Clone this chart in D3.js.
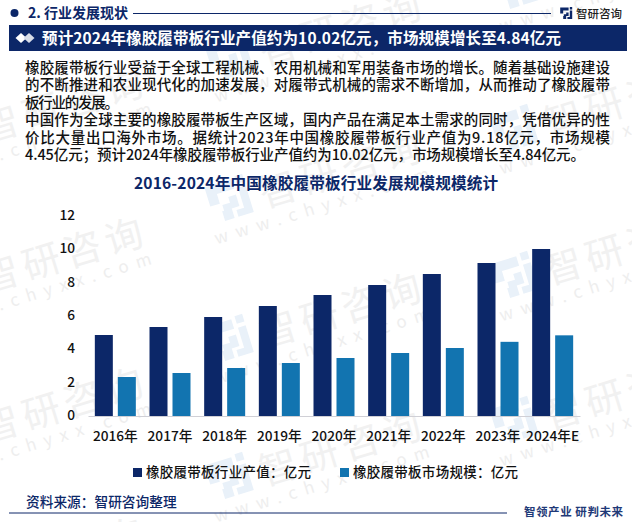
<!DOCTYPE html>
<html>
<head>
<meta charset="utf-8">
<script src="https://cdn.jsdelivr.net/npm/d3@7"></script>
<style>
  html, body { margin: 0; padding: 0; background: #fff; }
  svg { display: block; }
  text { font-family: "Noto Sans CJK SC", "Noto Sans", sans-serif; }
</style>
</head>
<body>
<svg id="chart"></svg>
<script>
const years = ["2016年", "2017年", "2018年", "2019年", "2020年", "2021年", "2022年", "2023年", "2024年E"];
const outputValues = [4.86, 5.34, 5.94, 6.6, 7.26, 7.86, 8.52, 9.18, 10.02];
const marketValues = [2.34, 2.58, 2.88, 3.18, 3.48, 3.78, 4.08, 4.45, 4.84];
const yTicks = [0, 2, 4, 6, 8, 10, 12];
const seriesNames = ["橡胶履带板行业产值：亿元", "橡胶履带板市场规模：亿元"];

const bodyLines = [
    "橡胶履带板行业受益于全球工程机械、农用机械和军用装备市场的增长。随着基础设施建设",
    "的不断推进和农业现代化的加速发展，对履带式机械的需求不断增加，从而推动了橡胶履带",
    "板行业的发展。",
    "中国作为全球主要的橡胶履带板生产区域，国内产品在满足本土需求的同时，凭借优异的性",
    "价比大量出口海外市场。据统计2023年中国橡胶履带板行业产值为9.18亿元，市场规模",
    "4.45亿元；预计2024年橡胶履带板行业产值约为10.02亿元，市场规模增长至4.84亿元。"
];
const bodyEnds = [610, 610, 119, 610, 610, 585];

// watermark stamps, repeated over the page
const stamps = [
    [225, 58], [225, 200], [225, 340], [225, 478],
    [-53, 135], [-53, 285], [-53, 435], [-53, 585],
    [510, -12], [510, 130], [510, 277], [510, 422]
];

const navy = "#0c2768";
const blue = "#1274b0";
const width = 632, height = 522;

const svg = d3.select("#chart").attr("width", width).attr("height", height);

// Watermark
const logoPath = "M-16,-18 H12 V-8 H-6 V2 H-16 Z M-4,4 H4 V-2 H12 V10 H4 V20 H-6 V10 H-4 Z M16,-20 H24 V-12 H16 Z M16,-8 H24 V20 H8 V13 H16 Z";
stamps.forEach(([sx, sy]) => {
    const g = svg.append("g").attr("transform", `translate(${sx},${sy}) rotate(-17)`);
    g.append("path").attr("d", logoPath).attr("fill", "#e9f1f9");
    g.append("text").attr("x", 35).attr("y", 19)
        .attr("font-size", 38).attr("letter-spacing", 5).attr("fill", "#f1f1f1")
        .text("智研咨询");
    g.append("text").attr("x", -21).attr("y", 40)
        .attr("font-size", 17).attr("letter-spacing", 8).attr("fill", "#eeeeee")
        .text("www.chyxx.com");
});

// Section header
svg.append("circle").attr("cx", 14.5).attr("cy", 13).attr("r", 4).attr("fill", navy);
svg.append("text").attr("x", 28).attr("y", 18).attr("font-size", 14).attr("font-weight", 700)
    .attr("fill", navy).text("2. 行业发展现状");
svg.append("line").attr("x1", 133).attr("x2", 551).attr("y1", 13.5).attr("y2", 13.5)
    .attr("stroke", navy).attr("stroke-width", 1);

// Top right brand
const brand = svg.append("g").attr("transform", "translate(565,13) scale(0.3)");
brand.append("path").attr("d", logoPath).attr("fill", navy);
svg.append("text").attr("x", 576).attr("y", 17.5).attr("font-size", 11.5).attr("font-weight", 500)
    .attr("fill", "#222").text("智研咨询");

// Title bar
svg.append("rect").attr("x", 9).attr("y", 25).attr("width", 618).attr("height", 26).attr("fill", navy);
[21, 29].forEach((cx, i) => {
    svg.append("path")
        .attr("d", `M${cx - 5.5},38 L${cx},33 L${cx + 5.5},38 L${cx},43 Z`)
        .attr("fill", i ? "#d8dde8" : "#fff");
});
svg.append("text").attr("x", 42).attr("y", 43.5).attr("font-size", 15.5).attr("font-weight", 700)
    .attr("fill", "#fff").attr("textLength", 519).attr("lengthAdjust", "spacing")
    .text("预计2024年橡胶履带板行业产值约为10.02亿元，市场规模增长至4.84亿元");

// Body text
svg.append("g").selectAll("text").data(bodyLines).join("text")
    .attr("x", 25)
    .attr("y", (d, i) => 73 + i * 17.4)
    .attr("font-size", 14.5).attr("font-weight", 500).attr("fill", "#111")
    .attr("textLength", (d, i) => bodyEnds[i] - 25)
    .attr("lengthAdjust", "spacing")
    .text(d => d);

// Chart title
svg.append("text").attr("x", 134).attr("y", 189)
    .attr("font-size", 15.6).attr("font-weight", 700).attr("fill", navy)
    .attr("textLength", 364).attr("lengthAdjust", "spacing")
    .text("2016-2024年中国橡胶履带板行业发展规模规模统计");

// Scales
const x = d3.scaleBand().domain(years).range([88, 580]);
const y = d3.scaleLinear().domain([0, 12]).range([416, 216]);
const barW = 18, gap = 5;

// Axes
const yAxis = svg.append("g").attr("transform", "translate(80,-1)")
    .call(d3.axisLeft(y).tickValues(yTicks).tickSize(0).tickPadding(5));
yAxis.select(".domain").remove();
yAxis.selectAll("text").attr("font-size", 13.7).attr("font-weight", 500)
    .attr("fill", "#111").style("font-family", '"Noto Sans CJK SC"');

const xAxis = svg.append("g").attr("transform", "translate(0,416)")
    .call(d3.axisBottom(x).tickSize(0).tickPadding(15));
xAxis.select(".domain").attr("stroke", "#d0d0d6");
xAxis.selectAll("text").attr("font-size", 13.7).attr("font-weight", 500)
    .attr("fill", "#111").style("font-family", '"Noto Sans CJK SC"');

// Bars
svg.append("g").selectAll("rect").data(outputValues).join("rect")
    .attr("x", (d, i) => x(years[i]) + x.bandwidth() / 2 - gap / 2 - barW)
    .attr("y", d => y(d))
    .attr("width", barW)
    .attr("height", d => y(0) - y(d))
    .attr("fill", navy);
svg.append("g").selectAll("rect").data(marketValues).join("rect")
    .attr("x", (d, i) => x(years[i]) + x.bandwidth() / 2 + gap / 2)
    .attr("y", d => y(d))
    .attr("width", barW)
    .attr("height", d => y(0) - y(d))
    .attr("fill", blue);

// Legend
const legendX = [133, 340];
const legendColors = [navy, blue];
seriesNames.forEach((name, i) => {
    svg.append("rect").attr("x", legendX[i]).attr("y", 468).attr("width", 9).attr("height", 9)
        .attr("fill", legendColors[i]);
    svg.append("text").attr("x", legendX[i] + 13).attr("y", 477).attr("font-size", 13.5).attr("font-weight", 500)
        .attr("fill", "#111").attr("textLength", 165).attr("lengthAdjust", "spacing").text(name);
});

// Footer
svg.append("text").attr("x", 26).attr("y", 507).attr("font-size", 13.7).attr("font-weight", 500)
    .attr("fill", navy).text("资料来源：智研咨询整理");
svg.append("line").attr("x1", 9).attr("x2", 507).attr("y1", 513).attr("y2", 513)
    .attr("stroke", navy).attr("stroke-width", 1);
svg.append("text").attr("x", 524).attr("y", 516).attr("font-size", 11.5).attr("font-weight", 700)
    .attr("fill", "#1f3a78").attr("textLength", 99).attr("lengthAdjust", "spacing")
    .text("智领产业 研判未来");
</script>
</body>
</html>
